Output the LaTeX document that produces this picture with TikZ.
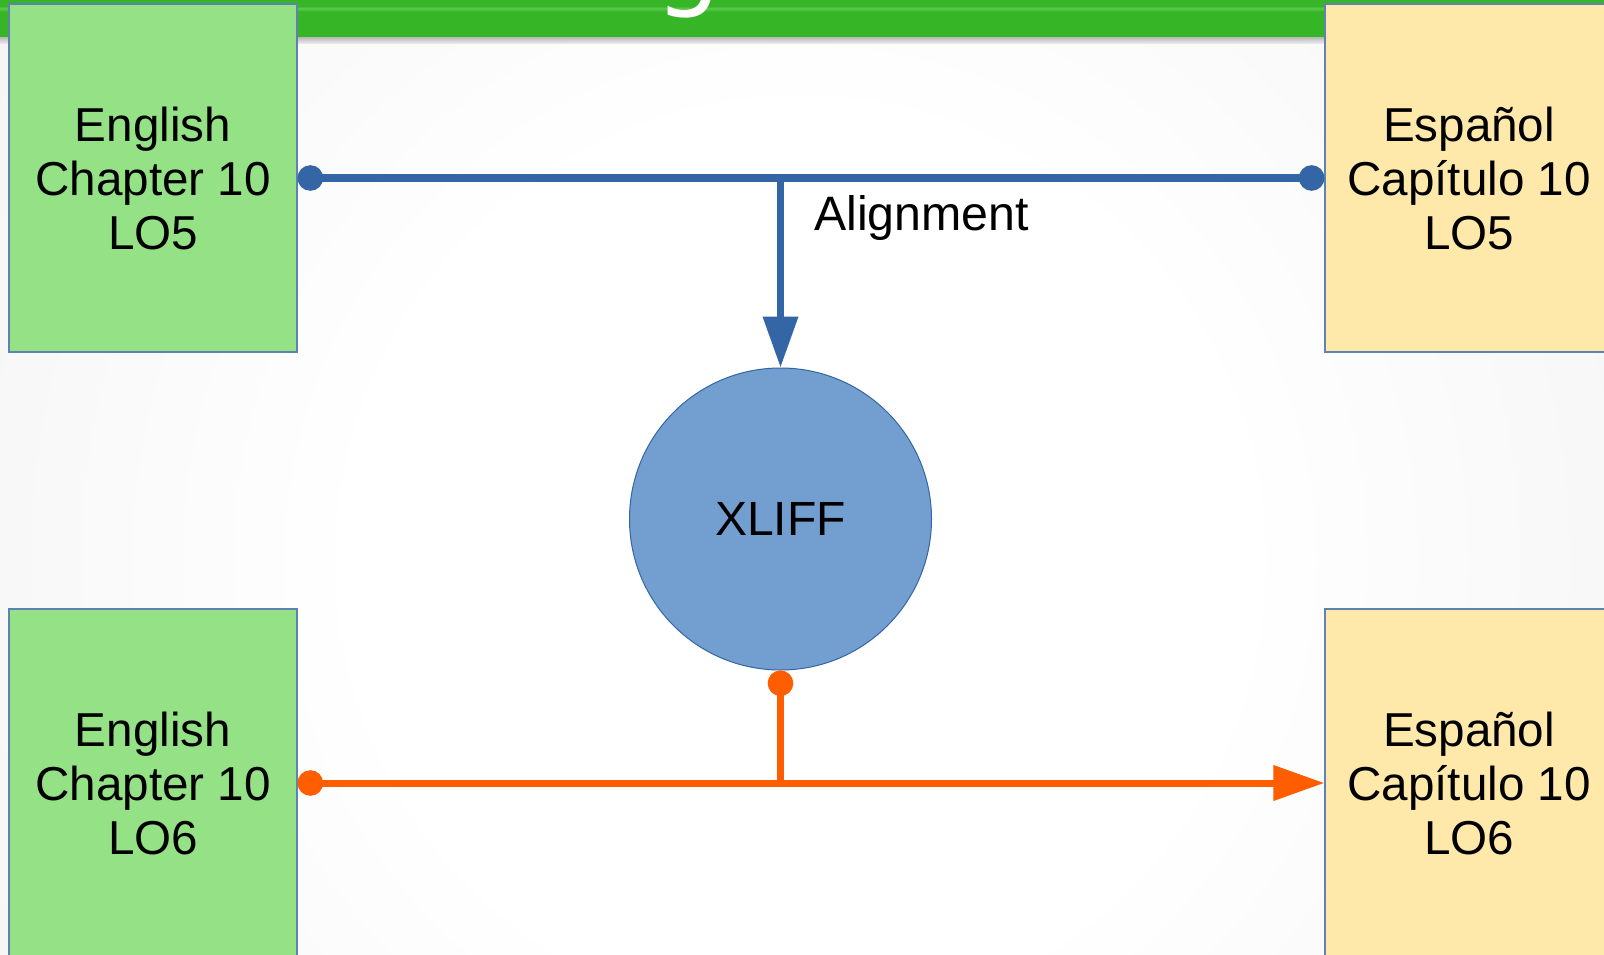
\documentclass[tikz,border=0pt]{standalone}
\usepackage{fontspec}
\setmainfont{Liberation Sans}
\newfontfamily\titlefont{DejaVu Sans}
\usetikzlibrary{arrows.meta}
\definecolor{bggray}{HTML}{F0F0F0}
\definecolor{boxgreen}{HTML}{95E186}
\definecolor{boxyellow}{HTML}{FEE8AA}
\definecolor{boxborder}{HTML}{5F82B2}
\definecolor{linkblue}{HTML}{3465A4}
\definecolor{circfill}{HTML}{729FCF}
\definecolor{linkorange}{HTML}{FF5E00}
\definecolor{gtop}{HTML}{1E9113}
\definecolor{gmid}{HTML}{36B527}
\definecolor{glight}{HTML}{5CCB4C}
\definecolor{gbot}{HTML}{23961A}
\pgfdeclareradialshading{bgrad}{\pgfpoint{0bp}{0bp}}{color(0bp)=(white); color(11bp)=(white); color(30bp)=(bggray); color(50bp)=(bggray)}
\pgfdeclareverticalshading{gbar}{100bp}{color(0bp)=(gbot); color(12bp)=(gmid); color(60bp)=(gmid); color(64bp)=(glight); color(67bp)=(gmid); color(78bp)=(gmid); color(100bp)=(gtop)}
\begin{document}
\begin{tikzpicture}[x=1pt,y=-1pt,
  boxtext/.style={font=\fontsize{47.6}{54}\selectfont, align=center, text=black},
  enbox/.style={boxtext, rectangle, minimum width=288pt, minimum height=348pt, inner sep=0pt, fill=boxgreen, draw=boxborder, line width=1.2pt},
  esbox/.style={enbox, fill=boxyellow},
  hub/.style={circle, minimum size=302pt, inner sep=0pt, fill=circfill, draw=linkblue, line width=1pt, font=\fontsize{48}{54}\selectfont},
  blueline/.style={draw=linkblue, line width=7pt},
  orangeline/.style={draw=linkorange, line width=7pt},
  dot/.tip={Circle[length=25.5pt,width=25.5pt]},
  head/.tip={Triangle[length=51pt,width=34pt]}
]
\useasboundingbox (0,0) rectangle (1604,955);
\begin{scope}
\clip (0,0) rectangle (1604,955);
% background
\shade[shading=bgrad] (800,560) circle[radius=1000pt];
% title bar
\shade[shading=gbar] (0,0) rectangle (1604,38);
\shade[top color=black!25, bottom color=bggray] (0,38) rectangle (1604,44);
\node[anchor=base west, inner sep=0pt, text=white, font=\fontsize{104}{104}\titlefont] (titleglyph) at (655,-3) {g};
% boxes
\node[enbox] (en5) at (153,178) {English\\Chapter 10\\LO5};
\node[esbox] (es5) at (1469,178) {Español\\Capítulo 10\\LO5};
\node[enbox] (en6) at (153,783) {English\\Chapter 10\\LO6};
\node[esbox] (es6) at (1469,783) {Español\\Capítulo 10\\LO6};
\node[hub] (xliff) at (780.5,519) {XLIFF};
% connectors
\draw[blueline, {dot}-{dot}] (en5.east) -- (es5.west);
\draw[blueline, -{head}] (en5.east -| xliff.north) -- (xliff.north);
\node[anchor=west, inner sep=0pt, font=\fontsize{48.3}{54}\selectfont] (align) at (814,218) {Alignment};
\draw[orangeline, {dot}-{head}] (en6.east) -- (es6.west);
\draw[orangeline, {dot}-] (xliff.south) -- (xliff.south |- en6.east);
\end{scope}
\end{tikzpicture}
\end{document}
